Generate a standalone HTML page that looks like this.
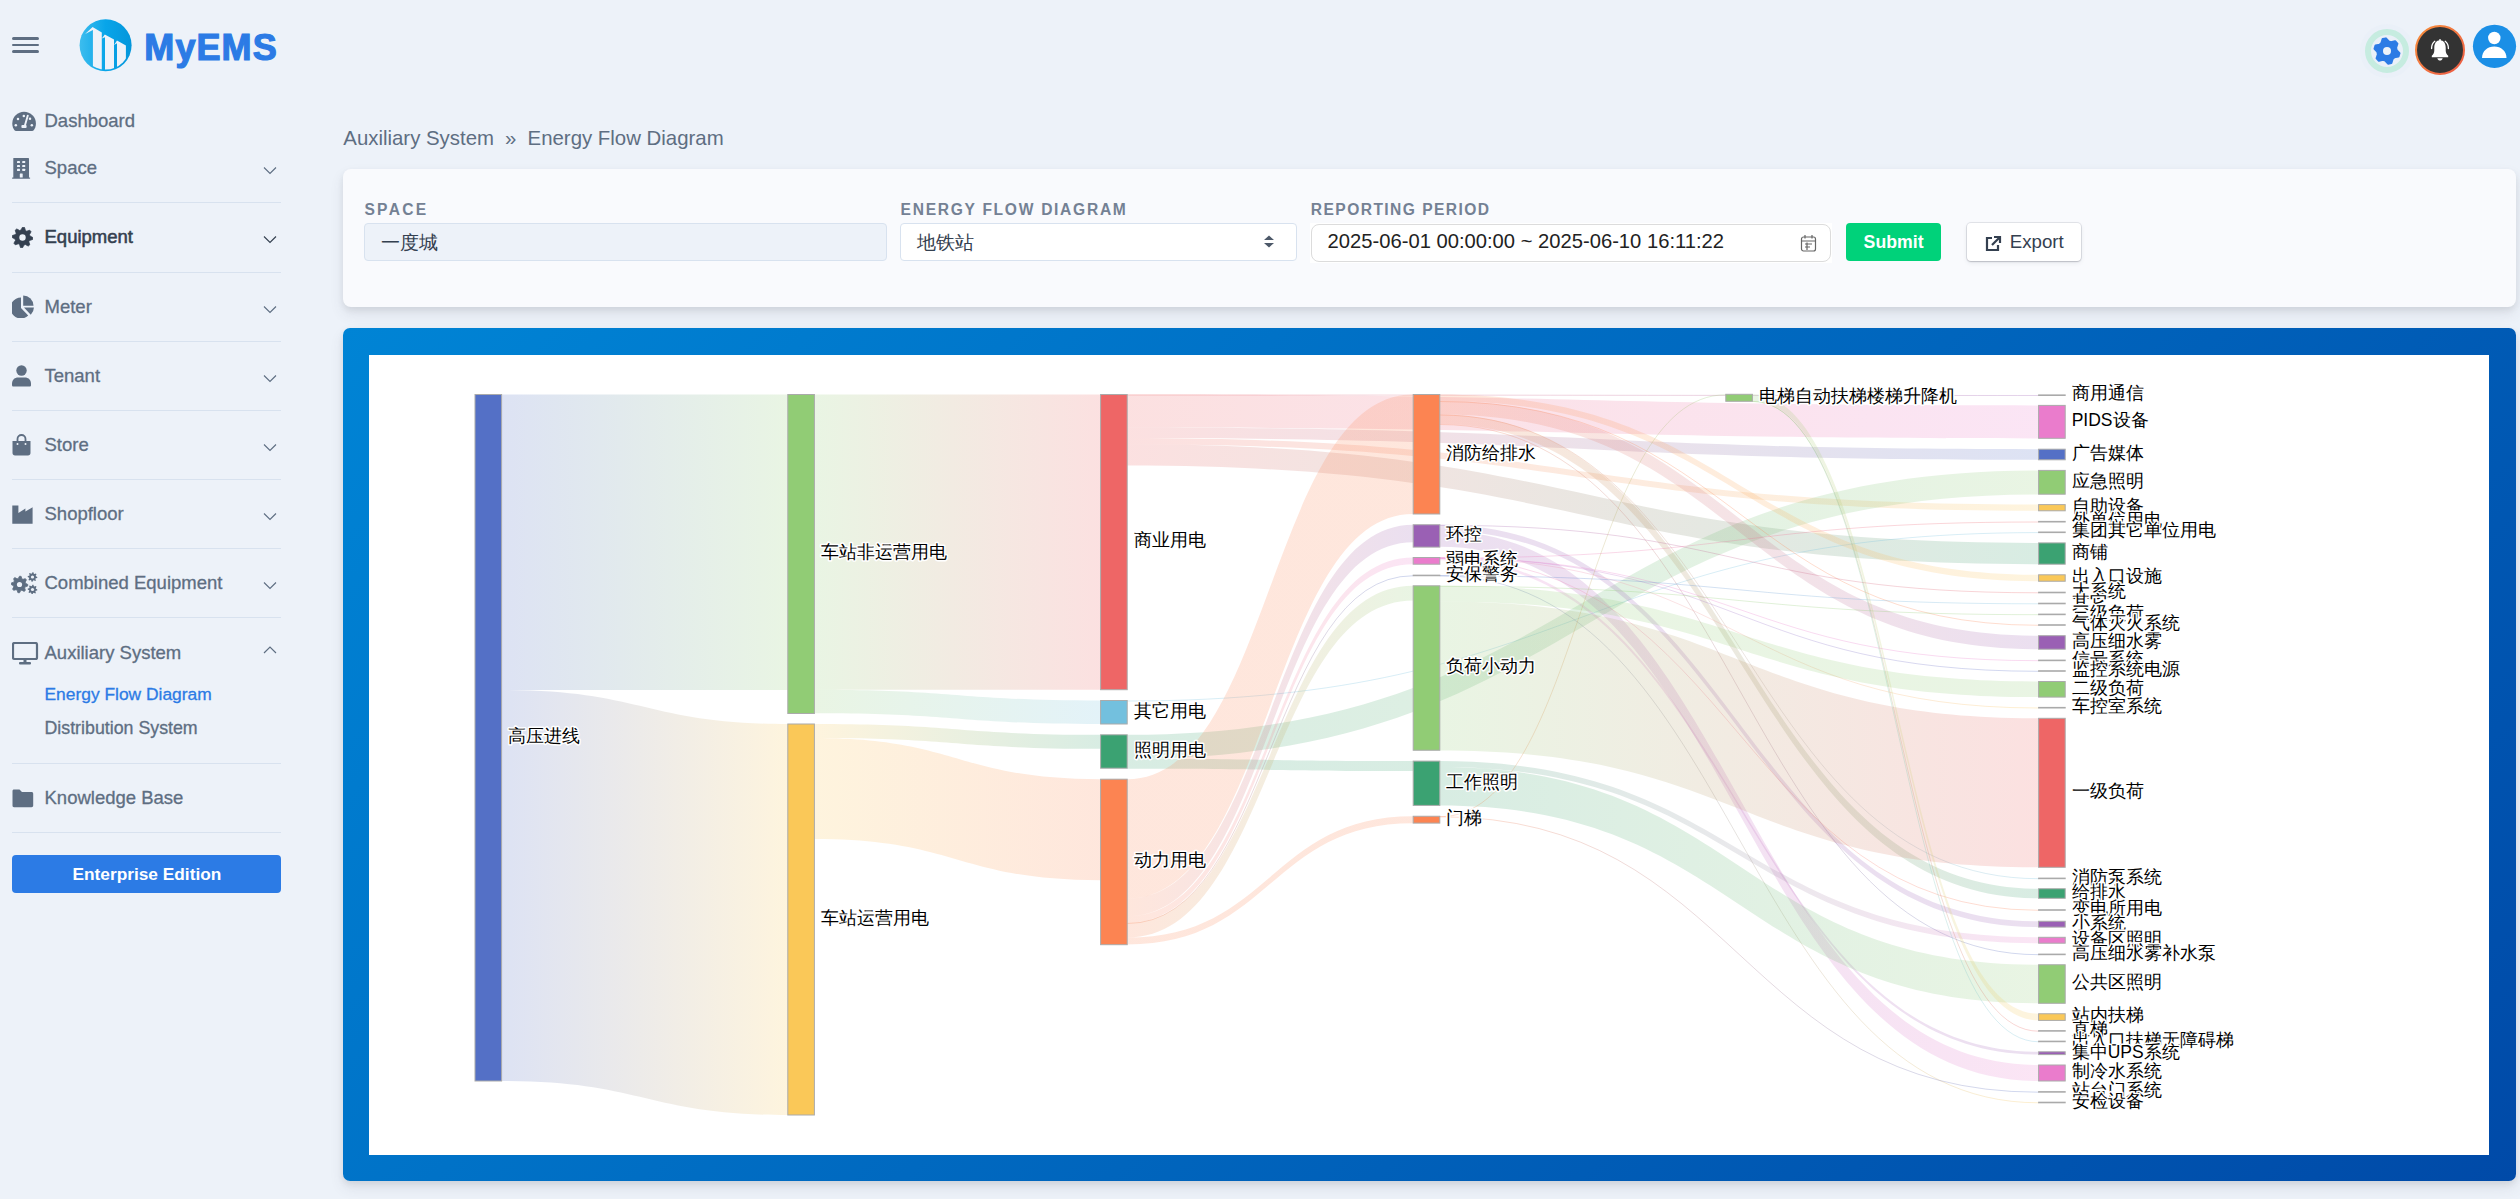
<!DOCTYPE html>
<html><head><meta charset="utf-8"><title>MyEMS</title><style>
*{margin:0;padding:0;box-sizing:border-box}
html,body{width:2520px;height:1199px;overflow:hidden;background:#edf2f9;font-family:"Liberation Sans", sans-serif}
.t{position:absolute;white-space:nowrap}
.a{position:absolute}
</style></head>
<body>
<div class="a" style="left:12px;top:37px;width:27px;height:3px;border-radius:2px;background:#5e6e82"></div>
<div class="a" style="left:12px;top:44px;width:27px;height:2px;border-radius:2px;background:#5e6e82"></div>
<div class="a" style="left:12px;top:50px;width:27px;height:3px;border-radius:2px;background:#5e6e82"></div>
<svg class="a" style="left:78px;top:18px" width="56" height="56" viewBox="0 0 56 56">
<defs><linearGradient id="lg" x1="0" y1="0" x2="1" y2="0"><stop offset="0" stop-color="#3dbdee"/><stop offset="0.5" stop-color="#08a5e9"/><stop offset="1" stop-color="#0496db"/></linearGradient>
<clipPath id="lc"><circle cx="27.6" cy="27.3" r="24.3"/></clipPath></defs>
<circle cx="27.6" cy="27.3" r="26" fill="url(#lg)"/>
<g clip-path="url(#lc)" fill="#eef2f9">
<path d="M7.1 16 L14.6 9.1 L23.8 14.5 L23.8 56 L14.9 56 L14.9 12.1 Z"/>
<path d="M23.8 20.5 L26.8 16.6 L36 21.6 L36 56 L27 56 L27 19.3 Z"/>
<path d="M36 27 L39 22.5 L47.9 27.6 L47.9 56 L39 56 L39 25.2 Z"/>
</g></svg>
<div class="t" style="left:144.3px;top:30.1px;font-size:36.0px;line-height:36.0px;color:#2c7be5;font-weight:bold;letter-spacing:1.1px;-webkit-text-stroke:1.2px #2c7be5">MyEMS</div>
<div class="t" style="left:44.5px;top:112.3px;font-size:18.5px;line-height:18.5px;color:#5e6e82;font-weight:normal;-webkit-text-stroke:0.3px #5e6e82">Dashboard</div>
<div class="t" style="left:44.5px;top:159.3px;font-size:18.5px;line-height:18.5px;color:#5e6e82;font-weight:normal;-webkit-text-stroke:0.3px #5e6e82">Space</div>
<svg class="a" style="left:262px;top:165.5px" width="16" height="10" viewBox="0 0 16 10"><path d="M2 1.5 L8 7.5 L14 1.5" fill="none" stroke="#5e6e82" stroke-width="1.15"/></svg>
<div class="t" style="left:44.5px;top:228.3px;font-size:18.5px;line-height:18.5px;color:#344050;font-weight:normal;-webkit-text-stroke:0.55px #344050">Equipment</div>
<svg class="a" style="left:262px;top:234.5px" width="16" height="10" viewBox="0 0 16 10"><path d="M2 1.5 L8 7.5 L14 1.5" fill="none" stroke="#344050" stroke-width="1.15"/></svg>
<div class="t" style="left:44.5px;top:298.3px;font-size:18.5px;line-height:18.5px;color:#5e6e82;font-weight:normal;-webkit-text-stroke:0.3px #5e6e82">Meter</div>
<svg class="a" style="left:262px;top:304.5px" width="16" height="10" viewBox="0 0 16 10"><path d="M2 1.5 L8 7.5 L14 1.5" fill="none" stroke="#5e6e82" stroke-width="1.15"/></svg>
<div class="t" style="left:44.5px;top:367.3px;font-size:18.5px;line-height:18.5px;color:#5e6e82;font-weight:normal;-webkit-text-stroke:0.3px #5e6e82">Tenant</div>
<svg class="a" style="left:262px;top:373.5px" width="16" height="10" viewBox="0 0 16 10"><path d="M2 1.5 L8 7.5 L14 1.5" fill="none" stroke="#5e6e82" stroke-width="1.15"/></svg>
<div class="t" style="left:44.5px;top:436.3px;font-size:18.5px;line-height:18.5px;color:#5e6e82;font-weight:normal;-webkit-text-stroke:0.3px #5e6e82">Store</div>
<svg class="a" style="left:262px;top:442.5px" width="16" height="10" viewBox="0 0 16 10"><path d="M2 1.5 L8 7.5 L14 1.5" fill="none" stroke="#5e6e82" stroke-width="1.15"/></svg>
<div class="t" style="left:44.5px;top:505.3px;font-size:18.5px;line-height:18.5px;color:#5e6e82;font-weight:normal;-webkit-text-stroke:0.3px #5e6e82">Shopfloor</div>
<svg class="a" style="left:262px;top:511.5px" width="16" height="10" viewBox="0 0 16 10"><path d="M2 1.5 L8 7.5 L14 1.5" fill="none" stroke="#5e6e82" stroke-width="1.15"/></svg>
<div class="t" style="left:44.5px;top:574.3px;font-size:18.5px;line-height:18.5px;color:#5e6e82;font-weight:normal;-webkit-text-stroke:0.3px #5e6e82">Combined Equipment</div>
<svg class="a" style="left:262px;top:580.5px" width="16" height="10" viewBox="0 0 16 10"><path d="M2 1.5 L8 7.5 L14 1.5" fill="none" stroke="#5e6e82" stroke-width="1.15"/></svg>
<div class="t" style="left:44.5px;top:644.3px;font-size:18.5px;line-height:18.5px;color:#5e6e82;font-weight:normal;-webkit-text-stroke:0.3px #5e6e82">Auxiliary System</div>
<svg class="a" style="left:262px;top:645px" width="16" height="10" viewBox="0 0 16 10"><path d="M2 8 L8 2 L14 8" fill="none" stroke="#5e6e82" stroke-width="1.15"/></svg>
<div class="t" style="left:44.5px;top:789.3px;font-size:18.5px;line-height:18.5px;color:#5e6e82;font-weight:normal;-webkit-text-stroke:0.3px #5e6e82">Knowledge Base</div>
<svg class="a" style="left:12px;top:111px" width="25" height="21" viewBox="0 0 25 21">
<path d="M12 0.8 C5.6 0.8 0.3 6 0.3 12.4 C0.3 15 1.1 17.3 2.5 19.2 C2.9 19.7 3.4 19.9 4 19.9 H20.2 C20.8 19.9 21.3 19.7 21.7 19.2 C23.1 17.3 23.9 15 23.9 12.4 C23.9 6 18.6 0.8 12 0.8 Z" fill="#5e6e82"/>
<circle cx="11.8" cy="5" r="1.25" fill="#edf2f9"/><circle cx="6" cy="8" r="1.25" fill="#edf2f9"/><circle cx="3.8" cy="14.3" r="1.25" fill="#edf2f9"/><circle cx="19.8" cy="14.3" r="1.25" fill="#edf2f9"/><circle cx="18" cy="7.8" r="1.25" fill="#edf2f9"/>
<path d="M15.8 4.6 L12.9 14.6" stroke="#edf2f9" stroke-width="1.9" stroke-linecap="round"/><rect x="9.4" y="13.9" width="5.2" height="3.1" rx="1" fill="#edf2f9"/>
</svg>
<svg class="a" style="left:12px;top:158px" width="19" height="22" viewBox="0 0 19 22">
<rect x="1.3" y="0" width="15.7" height="20" rx="0.6" fill="#5e6e82"/><rect x="0" y="19.4" width="18.2" height="1.3" rx="0.6" fill="#5e6e82"/>
<g fill="#edf2f9"><rect x="5" y="3" width="3" height="2.1" rx="0.4"/><rect x="10.2" y="3" width="3" height="2.1" rx="0.4"/><rect x="5" y="7" width="3" height="2.1" rx="0.4"/><rect x="10.2" y="7" width="3" height="2.1" rx="0.4"/><rect x="5" y="10.8" width="3" height="2.1" rx="0.4"/><rect x="10.2" y="10.8" width="3" height="2.1" rx="0.4"/><rect x="7.8" y="15.6" width="2.9" height="4" rx="0.4"/></g>
</svg>
<svg class="a" style="left:12px;top:227px" width="21" height="21" viewBox="0 0 21 21">
<path d="M10.50 0.20 L12.51 0.40 L13.41 3.48 L14.72 4.18 L17.78 3.22 L19.06 4.78 L17.52 7.59 L17.95 9.02 L20.80 10.50 L20.60 12.51 L17.52 13.41 L16.82 14.72 L17.78 17.78 L16.22 19.06 L13.41 17.52 L11.98 17.95 L10.50 20.80 L8.49 20.60 L7.59 17.52 L6.28 16.82 L3.22 17.78 L1.94 16.22 L3.48 13.41 L3.05 11.98 L0.20 10.50 L0.40 8.49 L3.48 7.59 L4.18 6.28 L3.22 3.22 L4.78 1.94 L7.59 3.48 L9.02 3.05 Z" fill="#344050" stroke="#344050" stroke-width="0.8" stroke-linejoin="round"/><circle cx="10.5" cy="10.5" r="3.2" fill="#edf2f9"/></svg>
<svg class="a" style="left:12px;top:294px" width="24" height="24" viewBox="0 0 24 24">
<path d="M9 14 V3.5 A10.5 10.5 0 1 0 16.2 21.6 Z" fill="#5e6e82"/><path d="M11.2 11.8 V1.5 A10.3 10.3 0 0 1 21.5 11.8 Z" fill="#5e6e82"/><path d="M12 13.5 H21.9 A10.3 10.3 0 0 1 18.8 20.8 Z" fill="#5e6e82"/></svg>
<svg class="a" style="left:12px;top:365px" width="20" height="22" viewBox="0 0 20 22">
<circle cx="9.5" cy="5.5" r="5.2" fill="#5e6e82"/><path d="M0 19 C0 14.5 3 12.5 6 12.5 H13 C16 12.5 19 14.5 19 19 V20 C19 21 18.5 21.5 17.5 21.5 H1.5 C0.5 21.5 0 21 0 20 Z" fill="#5e6e82"/></svg>
<svg class="a" style="left:12px;top:434px" width="20" height="22" viewBox="0 0 20 22">
<path d="M5.5 7 V5 A4 4 0 0 1 13.5 5 V7" fill="none" stroke="#5e6e82" stroke-width="1.8"/>
<path d="M0.5 7 H18.5 V19 C18.5 20.5 17.5 21.5 16 21.5 H3 C1.5 21.5 0.5 20.5 0.5 19 Z" fill="#5e6e82"/><circle cx="5.5" cy="10" r="1" fill="#edf2f9"/><circle cx="13.5" cy="10" r="1" fill="#edf2f9"/></svg>
<svg class="a" style="left:12px;top:504px" width="22" height="20" viewBox="0 0 22 20">
<path d="M0.3 1.4 H6.4 V9 L13.4 4.4 V7.6 L20.6 3.2 V19.8 H0.3 Z" fill="#5e6e82"/></svg>
<svg class="a" style="left:11px;top:572px" width="27" height="22" viewBox="0 0 27 22">
<path d="M8.50 4.20 L10.12 4.36 L10.87 6.77 L11.94 7.34 L14.37 6.63 L15.40 7.89 L14.23 10.13 L14.58 11.29 L16.80 12.50 L16.64 14.12 L14.23 14.87 L13.66 15.94 L14.37 18.37 L13.11 19.40 L10.87 18.23 L9.71 18.58 L8.50 20.80 L6.88 20.64 L6.13 18.23 L5.06 17.66 L2.63 18.37 L1.60 17.11 L2.77 14.87 L2.42 13.71 L0.20 12.50 L0.36 10.88 L2.77 10.13 L3.34 9.06 L2.63 6.63 L3.89 5.60 L6.13 6.77 L7.29 6.42 Z" fill="#5e6e82" stroke="#5e6e82" stroke-width="0.8" stroke-linejoin="round"/><circle cx="8.5" cy="12.5" r="2.6" fill="#edf2f9"/>
<path d="M21.50 0.20 L22.44 0.29 L22.84 1.77 L23.44 2.09 L24.89 1.61 L25.49 2.33 L24.73 3.66 L24.93 4.32 L26.30 5.00 L26.21 5.94 L24.73 6.34 L24.41 6.94 L24.89 8.39 L24.17 8.99 L22.84 8.23 L22.18 8.43 L21.50 9.80 L20.56 9.71 L20.16 8.23 L19.56 7.91 L18.11 8.39 L17.51 7.67 L18.27 6.34 L18.07 5.68 L16.70 5.00 L16.79 4.06 L18.27 3.66 L18.59 3.06 L18.11 1.61 L18.83 1.01 L20.16 1.77 L20.82 1.57 Z" fill="#5e6e82"/><circle cx="21.5" cy="5" r="1.6" fill="#edf2f9"/>
<path d="M21.50 12.70 L22.44 12.79 L22.84 14.27 L23.44 14.59 L24.89 14.11 L25.49 14.83 L24.73 16.16 L24.93 16.82 L26.30 17.50 L26.21 18.44 L24.73 18.84 L24.41 19.44 L24.89 20.89 L24.17 21.49 L22.84 20.73 L22.18 20.93 L21.50 22.30 L20.56 22.21 L20.16 20.73 L19.56 20.41 L18.11 20.89 L17.51 20.17 L18.27 18.84 L18.07 18.18 L16.70 17.50 L16.79 16.56 L18.27 16.16 L18.59 15.56 L18.11 14.11 L18.83 13.51 L20.16 14.27 L20.82 14.07 Z" fill="#5e6e82"/><circle cx="21.5" cy="17.5" r="1.6" fill="#edf2f9"/></svg>
<svg class="a" style="left:12px;top:642px" width="27" height="24" viewBox="0 0 27 24">
<rect x="1" y="1" width="24" height="16" rx="1.5" fill="none" stroke="#5e6e82" stroke-width="2.2"/><rect x="7" y="20" width="12" height="2.4" rx="1" fill="#5e6e82"/><rect x="11.5" y="17" width="3" height="3.5" fill="#5e6e82"/></svg>
<div class="t" style="left:44.5px;top:685.8px;font-size:17.4px;line-height:17.4px;color:#2c7be5;font-weight:normal;-webkit-text-stroke:0.3px #2c7be5">Energy Flow Diagram</div>
<div class="t" style="left:44.5px;top:720.1px;font-size:17.8px;line-height:17.8px;color:#5e6e82;font-weight:normal;-webkit-text-stroke:0.3px #5e6e82">Distribution System</div>
<svg class="a" style="left:12px;top:789px" width="22" height="19" viewBox="0 0 22 19">
<path d="M0.5 2 C0.5 1 1.2 0.5 2 0.5 H7.5 L10 3 H19.5 C20.5 3 21.2 3.7 21.2 4.7 V16.5 C21.2 17.5 20.5 18.2 19.5 18.2 H2 C1 18.2 0.5 17.5 0.5 16.5 Z" fill="#5e6e82"/></svg>
<div class="a" style="left:12px;top:202px;width:269px;height:1px;background:#d8e2ef"></div>
<div class="a" style="left:12px;top:272px;width:269px;height:1px;background:#d8e2ef"></div>
<div class="a" style="left:12px;top:341px;width:269px;height:1px;background:#d8e2ef"></div>
<div class="a" style="left:12px;top:410px;width:269px;height:1px;background:#d8e2ef"></div>
<div class="a" style="left:12px;top:479px;width:269px;height:1px;background:#d8e2ef"></div>
<div class="a" style="left:12px;top:548px;width:269px;height:1px;background:#d8e2ef"></div>
<div class="a" style="left:12px;top:617px;width:269px;height:1px;background:#d8e2ef"></div>
<div class="a" style="left:12px;top:763px;width:269px;height:1px;background:#d8e2ef"></div>
<div class="a" style="left:12px;top:832px;width:269px;height:1px;background:#d8e2ef"></div>
<div class="a" style="left:12px;top:855px;width:269px;height:38px;border-radius:4px;background:#2c7be5"></div>
<div class="t" style="left:72.5px;top:865.9px;font-size:17.3px;line-height:17.3px;color:#fff;font-weight:bold;">Enterprise Edition</div>
<svg class="a" style="left:2355px;top:18px" width="165" height="66" viewBox="2355 18 165 66">
<circle cx="2387" cy="51" r="27" fill="#eaf0f8"/>
<circle cx="2387" cy="51" r="19" fill="none" stroke="#c6ece0" stroke-width="6"/>
<path d="M2387.00 38.40 L2390.26 38.83 L2391.80 42.69 L2393.79 44.21 L2397.91 44.70 L2399.17 47.74 L2396.60 51.00 L2396.27 53.48 L2397.91 57.30 L2395.91 59.91 L2391.80 59.31 L2389.48 60.27 L2387.00 63.60 L2383.74 63.17 L2382.20 59.31 L2380.21 57.79 L2376.09 57.30 L2374.83 54.26 L2377.40 51.00 L2377.73 48.52 L2376.09 44.70 L2378.09 42.09 L2382.20 42.69 L2384.52 41.73 Z" fill="#2c7be5" stroke="#2c7be5" stroke-width="2.2" stroke-linejoin="round" transform="rotate(-20 2387 51)"/>
<circle cx="2387" cy="51" r="4" fill="#edf2f9"/>
<defs><linearGradient id="bo" x1="0" y1="0" x2="1" y2="1"><stop offset="0" stop-color="#f7903c"/><stop offset="1" stop-color="#ec5a45"/></linearGradient></defs>
<circle cx="2440" cy="50" r="24" fill="#333" stroke="url(#bo)" stroke-width="2"/>
<path d="M2440 40.3 C2436.3 40.3 2434.3 43.5 2434.3 47.5 V50.5 C2434.3 52.8 2433.3 54.4 2431.8 55.8 V57.3 H2448.2 V55.8 C2446.7 54.4 2445.7 52.8 2445.7 50.5 V47.5 C2445.7 43.5 2443.7 40.3 2440 40.3 Z" fill="#fff"/>
<rect x="2439.2" y="39" width="1.6" height="2.5" rx="0.8" fill="#fff"/>
<path d="M2437.3 58.2 H2442.7 C2442.2 59.7 2441.3 60.5 2440 60.5 C2438.7 60.5 2437.8 59.7 2437.3 58.2 Z" fill="#fff"/>
<path d="M2431.6 48.5 C2431.6 45.2 2432.8 42.8 2434.8 41.3" fill="none" stroke="#fff" stroke-width="1.3" stroke-linecap="round"/>
<path d="M2448.4 48.5 C2448.4 45.2 2447.2 42.8 2445.2 41.3" fill="none" stroke="#fff" stroke-width="1.3" stroke-linecap="round"/>
<circle cx="2494.5" cy="46.3" r="21.6" fill="#1b8fe6"/>
<circle cx="2494.3" cy="38" r="6.2" fill="#fff"/>
<path d="M2482 58 C2482 51 2487.5 46.5 2494.3 46.5 C2501 46.5 2506.5 51 2506.5 58 Z" fill="#fff"/>
</svg>
<div class="t" style="left:343.3px;top:128.1px;font-size:20.4px;line-height:20.4px;color:#5e6e82;font-weight:normal;">Auxiliary System</div>
<div class="t" style="left:505.0px;top:128.1px;font-size:20.4px;line-height:20.4px;color:#5e6e82;font-weight:normal;">&raquo;</div>
<div class="t" style="left:527.6px;top:128.1px;font-size:20.4px;line-height:20.4px;color:#5e6e82;font-weight:normal;">Energy Flow Diagram</div>
<div class="a" style="left:343px;top:169px;width:2173px;height:138px;border-radius:8px;background:#f9fafd;box-shadow:0 7px 14px 0 rgba(65,69,88,0.1),0 3px 6px 0 rgba(0,0,0,0.07)"></div>
<div class="t" style="left:364.4px;top:201.6px;font-size:15.6px;line-height:15.6px;color:#748194;font-weight:bold;letter-spacing:2.3px">SPACE</div>
<div class="t" style="left:900.6px;top:202.1px;font-size:15.6px;line-height:15.6px;color:#748194;font-weight:bold;letter-spacing:1.7px">ENERGY FLOW DIAGRAM</div>
<div class="t" style="left:1310.8px;top:202.1px;font-size:15.6px;line-height:15.6px;color:#748194;font-weight:bold;letter-spacing:1.43px">REPORTING PERIOD</div>
<div class="a" style="left:364px;top:223px;width:523px;height:38px;border-radius:4px;background:#edf2f9;border:1px solid #d8e2ef"></div>
<div class="t" style="left:381.4px;top:233.8px;font-size:18.5px;line-height:18.5px;color:#344050;font-weight:normal;">一度城</div>
<div class="a" style="left:900px;top:223px;width:397px;height:38px;border-radius:4px;background:#fff;border:1px solid #d8e2ef"></div>
<div class="t" style="left:917.0px;top:233.8px;font-size:18.5px;line-height:18.5px;color:#344050;font-weight:normal;">地铁站</div>
<svg class="a" style="left:1262px;top:234px" width="14" height="15" viewBox="0 0 14 15"><path d="M2 6 L7 1.5 L12 6 Z M2 9 L7 13.5 L12 9 Z" fill="#4d5969"/></svg>
<div class="a" style="left:1310px;top:223px;width:522px;height:40px;background:#fff"></div>
<div class="a" style="left:1311px;top:224px;width:520px;height:38px;border-radius:8px;background:#fff;border:1px solid #dcdcdc"></div>
<div class="t" style="left:1327.6px;top:231.4px;font-size:20.2px;line-height:20.2px;color:#222;font-weight:normal;">2025-06-01 00:00:00 ~ 2025-06-10 16:11:22</div>
<svg class="a" style="left:1800px;top:234px" width="19" height="19" viewBox="0 0 19 19"><g fill="none" stroke="#666" stroke-width="1.2">
<rect x="1.5" y="3" width="14" height="14" rx="2"/><path d="M1.5 7 H15.5 M5 1 V4.5 M12 1 V4.5 M5 10 H12 M5 13 H10 M7 8.5 V16"/></g></svg>
<div class="a" style="left:1846px;top:223px;width:95px;height:38px;border-radius:4px;background:#00d27a"></div>
<div class="t" style="left:1863.6px;top:233.6px;font-size:17.7px;line-height:17.7px;color:#fff;font-weight:bold;">Submit</div>
<div class="a" style="left:1967px;top:223px;width:114px;height:38px;border-radius:4px;background:#fff;box-shadow:0 0 0 1px rgba(43,45,80,0.1),0 2px 5px 0 rgba(43,45,80,0.08),0 1px 1.5px 0 rgba(0,0,0,0.07),0 1px 2px 0 rgba(0,0,0,0.08)"></div>
<svg class="a" style="left:1985px;top:235px" width="17" height="17" viewBox="0 0 17 17"><g fill="none" stroke="#344050" stroke-width="2.2">
<path d="M7 3 H2 V15 H13 V10"/><path d="M9 2 H15 V8 M15 2 L7 10"/></g></svg>
<div class="t" style="left:2009.7px;top:232.8px;font-size:18.7px;line-height:18.7px;color:#344050;font-weight:normal;">Export</div>
<div class="a" style="left:343px;top:328px;width:2173px;height:853px;border-radius:7px;background:linear-gradient(135deg,#0084d5,#004aa8);box-shadow:0 7px 14px 0 rgba(65,69,88,0.1),0 3px 6px 0 rgba(0,0,0,0.07)"></div>
<div class="a" style="left:369px;top:355px;width:2120px;height:800px;background:#fff"></div>
<svg class="a" style="left:0;top:0" width="2520" height="1199" viewBox="0 0 2520 1199">
<defs>
<linearGradient id="g0" gradientUnits="userSpaceOnUse" x1="501.6" y1="0" x2="787.8" y2="0"><stop offset="0" stop-color="#5470c6"/><stop offset="1" stop-color="#91cc75"/></linearGradient>
<linearGradient id="g1" gradientUnits="userSpaceOnUse" x1="501.6" y1="0" x2="787.8" y2="0"><stop offset="0" stop-color="#5470c6"/><stop offset="1" stop-color="#fac858"/></linearGradient>
<linearGradient id="g2" gradientUnits="userSpaceOnUse" x1="814.4" y1="0" x2="1100.6" y2="0"><stop offset="0" stop-color="#91cc75"/><stop offset="1" stop-color="#ee6666"/></linearGradient>
<linearGradient id="g3" gradientUnits="userSpaceOnUse" x1="814.4" y1="0" x2="1100.6" y2="0"><stop offset="0" stop-color="#91cc75"/><stop offset="1" stop-color="#73c0de"/></linearGradient>
<linearGradient id="g4" gradientUnits="userSpaceOnUse" x1="814.4" y1="0" x2="1100.6" y2="0"><stop offset="0" stop-color="#fac858"/><stop offset="1" stop-color="#3ba272"/></linearGradient>
<linearGradient id="g5" gradientUnits="userSpaceOnUse" x1="814.4" y1="0" x2="1100.6" y2="0"><stop offset="0" stop-color="#fac858"/><stop offset="1" stop-color="#fc8452"/></linearGradient>
<linearGradient id="g6" gradientUnits="userSpaceOnUse" x1="1127.2" y1="0" x2="2038.6" y2="0"><stop offset="0" stop-color="#ee6666"/><stop offset="1" stop-color="#9a60b4"/></linearGradient>
<linearGradient id="g7" gradientUnits="userSpaceOnUse" x1="1127.2" y1="0" x2="2038.6" y2="0"><stop offset="0" stop-color="#ee6666"/><stop offset="1" stop-color="#ea7ccc"/></linearGradient>
<linearGradient id="g8" gradientUnits="userSpaceOnUse" x1="1127.2" y1="0" x2="2038.6" y2="0"><stop offset="0" stop-color="#ee6666"/><stop offset="1" stop-color="#5470c6"/></linearGradient>
<linearGradient id="g9" gradientUnits="userSpaceOnUse" x1="1127.2" y1="0" x2="2038.6" y2="0"><stop offset="0" stop-color="#ee6666"/><stop offset="1" stop-color="#fac858"/></linearGradient>
<linearGradient id="g10" gradientUnits="userSpaceOnUse" x1="1127.2" y1="0" x2="2038.6" y2="0"><stop offset="0" stop-color="#ee6666"/><stop offset="1" stop-color="#3ba272"/></linearGradient>
<linearGradient id="g11" gradientUnits="userSpaceOnUse" x1="1127.2" y1="0" x2="2038.6" y2="0"><stop offset="0" stop-color="#73c0de"/><stop offset="1" stop-color="#73c0de"/></linearGradient>
<linearGradient id="g12" gradientUnits="userSpaceOnUse" x1="1127.2" y1="0" x2="2038.6" y2="0"><stop offset="0" stop-color="#3ba272"/><stop offset="1" stop-color="#91cc75"/></linearGradient>
<linearGradient id="g13" gradientUnits="userSpaceOnUse" x1="1127.2" y1="0" x2="1413.2" y2="0"><stop offset="0" stop-color="#3ba272"/><stop offset="1" stop-color="#3ba272"/></linearGradient>
<linearGradient id="g14" gradientUnits="userSpaceOnUse" x1="1127.2" y1="0" x2="1413.2" y2="0"><stop offset="0" stop-color="#fc8452"/><stop offset="1" stop-color="#fc8452"/></linearGradient>
<linearGradient id="g15" gradientUnits="userSpaceOnUse" x1="1127.2" y1="0" x2="1413.2" y2="0"><stop offset="0" stop-color="#fc8452"/><stop offset="1" stop-color="#9a60b4"/></linearGradient>
<linearGradient id="g16" gradientUnits="userSpaceOnUse" x1="1127.2" y1="0" x2="1413.2" y2="0"><stop offset="0" stop-color="#fc8452"/><stop offset="1" stop-color="#ea7ccc"/></linearGradient>
<linearGradient id="g17" gradientUnits="userSpaceOnUse" x1="1127.2" y1="0" x2="1413.2" y2="0"><stop offset="0" stop-color="#fc8452"/><stop offset="1" stop-color="#5470c6"/></linearGradient>
<linearGradient id="g18" gradientUnits="userSpaceOnUse" x1="1127.2" y1="0" x2="1413.2" y2="0"><stop offset="0" stop-color="#fc8452"/><stop offset="1" stop-color="#91cc75"/></linearGradient>
<linearGradient id="g19" gradientUnits="userSpaceOnUse" x1="1127.2" y1="0" x2="1413.2" y2="0"><stop offset="0" stop-color="#fc8452"/><stop offset="1" stop-color="#fc8452"/></linearGradient>
<linearGradient id="g20" gradientUnits="userSpaceOnUse" x1="1439.8" y1="0" x2="2038.6" y2="0"><stop offset="0" stop-color="#fc8452"/><stop offset="1" stop-color="#fac858"/></linearGradient>
<linearGradient id="g21" gradientUnits="userSpaceOnUse" x1="1439.8" y1="0" x2="2038.6" y2="0"><stop offset="0" stop-color="#fc8452"/><stop offset="1" stop-color="#fc8452"/></linearGradient>
<linearGradient id="g22" gradientUnits="userSpaceOnUse" x1="1439.8" y1="0" x2="2038.6" y2="0"><stop offset="0" stop-color="#fc8452"/><stop offset="1" stop-color="#9a60b4"/></linearGradient>
<linearGradient id="g23" gradientUnits="userSpaceOnUse" x1="1439.8" y1="0" x2="2038.6" y2="0"><stop offset="0" stop-color="#fc8452"/><stop offset="1" stop-color="#73c0de"/></linearGradient>
<linearGradient id="g24" gradientUnits="userSpaceOnUse" x1="1439.8" y1="0" x2="2038.6" y2="0"><stop offset="0" stop-color="#fc8452"/><stop offset="1" stop-color="#3ba272"/></linearGradient>
<linearGradient id="g25" gradientUnits="userSpaceOnUse" x1="1439.8" y1="0" x2="2038.6" y2="0"><stop offset="0" stop-color="#fc8452"/><stop offset="1" stop-color="#5470c6"/></linearGradient>
<linearGradient id="g26" gradientUnits="userSpaceOnUse" x1="1439.8" y1="0" x2="2038.6" y2="0"><stop offset="0" stop-color="#9a60b4"/><stop offset="1" stop-color="#ee6666"/></linearGradient>
<linearGradient id="g27" gradientUnits="userSpaceOnUse" x1="1439.8" y1="0" x2="2038.6" y2="0"><stop offset="0" stop-color="#9a60b4"/><stop offset="1" stop-color="#9a60b4"/></linearGradient>
<linearGradient id="g28" gradientUnits="userSpaceOnUse" x1="1439.8" y1="0" x2="2038.6" y2="0"><stop offset="0" stop-color="#9a60b4"/><stop offset="1" stop-color="#ea7ccc"/></linearGradient>
<linearGradient id="g29" gradientUnits="userSpaceOnUse" x1="1439.8" y1="0" x2="2038.6" y2="0"><stop offset="0" stop-color="#ea7ccc"/><stop offset="1" stop-color="#ee6666"/></linearGradient>
<linearGradient id="g30" gradientUnits="userSpaceOnUse" x1="1439.8" y1="0" x2="2038.6" y2="0"><stop offset="0" stop-color="#ea7ccc"/><stop offset="1" stop-color="#ea7ccc"/></linearGradient>
<linearGradient id="g31" gradientUnits="userSpaceOnUse" x1="1439.8" y1="0" x2="2038.6" y2="0"><stop offset="0" stop-color="#ea7ccc"/><stop offset="1" stop-color="#5470c6"/></linearGradient>
<linearGradient id="g32" gradientUnits="userSpaceOnUse" x1="1439.8" y1="0" x2="2038.6" y2="0"><stop offset="0" stop-color="#ea7ccc"/><stop offset="1" stop-color="#fac858"/></linearGradient>
<linearGradient id="g33" gradientUnits="userSpaceOnUse" x1="1439.8" y1="0" x2="2038.6" y2="0"><stop offset="0" stop-color="#ea7ccc"/><stop offset="1" stop-color="#fc8452"/></linearGradient>
<linearGradient id="g34" gradientUnits="userSpaceOnUse" x1="1439.8" y1="0" x2="2038.6" y2="0"><stop offset="0" stop-color="#ea7ccc"/><stop offset="1" stop-color="#9a60b4"/></linearGradient>
<linearGradient id="g35" gradientUnits="userSpaceOnUse" x1="1439.8" y1="0" x2="2038.6" y2="0"><stop offset="0" stop-color="#5470c6"/><stop offset="1" stop-color="#73c0de"/></linearGradient>
<linearGradient id="g36" gradientUnits="userSpaceOnUse" x1="1439.8" y1="0" x2="2038.6" y2="0"><stop offset="0" stop-color="#5470c6"/><stop offset="1" stop-color="#fac858"/></linearGradient>
<linearGradient id="g37" gradientUnits="userSpaceOnUse" x1="1439.8" y1="0" x2="2038.6" y2="0"><stop offset="0" stop-color="#91cc75"/><stop offset="1" stop-color="#91cc75"/></linearGradient>
<linearGradient id="g38" gradientUnits="userSpaceOnUse" x1="1439.8" y1="0" x2="2038.6" y2="0"><stop offset="0" stop-color="#91cc75"/><stop offset="1" stop-color="#91cc75"/></linearGradient>
<linearGradient id="g39" gradientUnits="userSpaceOnUse" x1="1439.8" y1="0" x2="2038.6" y2="0"><stop offset="0" stop-color="#91cc75"/><stop offset="1" stop-color="#ee6666"/></linearGradient>
<linearGradient id="g40" gradientUnits="userSpaceOnUse" x1="1439.8" y1="0" x2="2038.6" y2="0"><stop offset="0" stop-color="#3ba272"/><stop offset="1" stop-color="#ea7ccc"/></linearGradient>
<linearGradient id="g41" gradientUnits="userSpaceOnUse" x1="1439.8" y1="0" x2="2038.6" y2="0"><stop offset="0" stop-color="#3ba272"/><stop offset="1" stop-color="#91cc75"/></linearGradient>
<linearGradient id="g42" gradientUnits="userSpaceOnUse" x1="1439.8" y1="0" x2="1725.8" y2="0"><stop offset="0" stop-color="#fc8452"/><stop offset="1" stop-color="#91cc75"/></linearGradient>
<linearGradient id="g43" gradientUnits="userSpaceOnUse" x1="1439.8" y1="0" x2="2038.6" y2="0"><stop offset="0" stop-color="#fc8452"/><stop offset="1" stop-color="#5470c6"/></linearGradient>
<linearGradient id="g44" gradientUnits="userSpaceOnUse" x1="1752.4" y1="0" x2="2038.6" y2="0"><stop offset="0" stop-color="#91cc75"/><stop offset="1" stop-color="#fac858"/></linearGradient>
<linearGradient id="g45" gradientUnits="userSpaceOnUse" x1="1752.4" y1="0" x2="2038.6" y2="0"><stop offset="0" stop-color="#91cc75"/><stop offset="1" stop-color="#ee6666"/></linearGradient>
<linearGradient id="g46" gradientUnits="userSpaceOnUse" x1="1752.4" y1="0" x2="2038.6" y2="0"><stop offset="0" stop-color="#91cc75"/><stop offset="1" stop-color="#73c0de"/></linearGradient>
</defs>
<g opacity="1">
<path d="M501.6 394.50 C644.7 394.50 644.7 394.50 787.8 394.50 L787.8 690.00 C644.7 690.00 644.7 690.00 501.6 690.00 Z" fill="url(#g0)" fill-opacity="0.2"/>
<path d="M501.6 690.00 C644.7 690.00 644.7 724.00 787.8 724.00 L787.8 1115.00 C644.7 1115.00 644.7 1081.00 501.6 1081.00 Z" fill="url(#g1)" fill-opacity="0.2"/>
<path d="M814.4 394.50 C957.5 394.50 957.5 394.50 1100.6 394.50 L1100.6 689.70 C957.5 689.70 957.5 689.70 814.4 689.70 Z" fill="url(#g2)" fill-opacity="0.2"/>
<path d="M814.4 689.70 C957.5 689.70 957.5 700.50 1100.6 700.50 L1100.6 724.00 C957.5 724.00 957.5 713.20 814.4 713.20 Z" fill="url(#g3)" fill-opacity="0.2"/>
<path d="M814.4 724.00 C957.5 724.00 957.5 734.80 1100.6 734.80 L1100.6 748.80 C957.5 748.80 957.5 738.00 814.4 738.00 Z" fill="url(#g4)" fill-opacity="0.2"/>
<path d="M814.4 738.00 C957.5 738.00 957.5 779.20 1100.6 779.20 L1100.6 880.20 C957.5 880.20 957.5 839.00 814.4 839.00 Z" fill="url(#g5)" fill-opacity="0.2"/>
<path d="M1127.2 395.00 C1582.9 395.00 1582.9 395.50 2038.6 395.50" fill="none" stroke="url(#g6)" stroke-opacity="0.28" stroke-width="1"/>
<path d="M1127.2 394.50 C1582.9 394.50 1582.9 405.40 2038.6 405.40 L2038.6 438.40 C1582.9 438.40 1582.9 427.50 1127.2 427.50 Z" fill="url(#g7)" fill-opacity="0.2"/>
<path d="M1127.2 427.50 C1582.9 427.50 1582.9 449.20 2038.6 449.20 L2038.6 459.80 C1582.9 459.80 1582.9 438.10 1127.2 438.10 Z" fill="url(#g8)" fill-opacity="0.2"/>
<path d="M1127.2 438.10 C1582.9 438.10 1582.9 504.60 2038.6 504.60 L2038.6 510.80 C1582.9 510.80 1582.9 444.30 1127.2 444.30 Z" fill="url(#g9)" fill-opacity="0.2"/>
<path d="M1127.2 444.30 C1582.9 444.30 1582.9 542.90 2038.6 542.90 L2038.6 564.20 C1582.9 564.20 1582.9 465.60 1127.2 465.60 Z" fill="url(#g10)" fill-opacity="0.2"/>
<path d="M1127.2 701.00 C1582.9 701.00 1582.9 532.60 2038.6 532.60" fill="none" stroke="url(#g11)" stroke-opacity="0.28" stroke-width="1"/>
<path d="M1127.2 734.80 C1582.9 734.80 1582.9 470.40 2038.6 470.40 L2038.6 494.40 C1582.9 494.40 1582.9 758.80 1127.2 758.80 Z" fill="url(#g12)" fill-opacity="0.2"/>
<path d="M1127.2 758.80 C1270.2 758.80 1270.2 761.10 1413.2 761.10 L1413.2 771.10 C1270.2 771.10 1270.2 768.80 1127.2 768.80 Z" fill="url(#g13)" fill-opacity="0.2"/>
<path d="M1127.2 779.20 C1270.2 779.20 1270.2 394.50 1413.2 394.50 L1413.2 514.00 C1270.2 514.00 1270.2 898.70 1127.2 898.70 Z" fill="url(#g14)" fill-opacity="0.2"/>
<path d="M1127.2 898.70 C1270.2 898.70 1270.2 524.75 1413.2 524.75 L1413.2 542.35 C1270.2 542.35 1270.2 916.30 1127.2 916.30 Z" fill="url(#g15)" fill-opacity="0.2"/>
<path d="M1127.2 916.30 C1270.2 916.30 1270.2 557.50 1413.2 557.50 L1413.2 564.20 C1270.2 564.20 1270.2 923.00 1127.2 923.00 Z" fill="url(#g16)" fill-opacity="0.2"/>
<path d="M1127.2 923.50 C1270.2 923.50 1270.2 575.75 1413.2 575.75" fill="none" stroke="url(#g17)" stroke-opacity="0.28" stroke-width="1"/>
<path d="M1127.2 923.00 C1270.2 923.00 1270.2 585.80 1413.2 585.80 L1413.2 600.40 C1270.2 600.40 1270.2 937.60 1127.2 937.60 Z" fill="url(#g18)" fill-opacity="0.2"/>
<path d="M1127.2 937.60 C1270.2 937.60 1270.2 816.25 1413.2 816.25 L1413.2 823.15 C1270.2 823.15 1270.2 944.50 1127.2 944.50 Z" fill="url(#g19)" fill-opacity="0.2"/>
<path d="M1439.8 394.50 C1739.2 394.50 1739.2 574.80 2038.6 574.80 L2038.6 581.30 C1739.2 581.30 1739.2 401.00 1439.8 401.00 Z" fill="url(#g20)" fill-opacity="0.2"/>
<path d="M1439.8 401.50 C1739.2 401.50 1739.2 625.30 2038.6 625.30" fill="none" stroke="url(#g21)" stroke-opacity="0.28" stroke-width="1"/>
<path d="M1439.8 401.00 C1739.2 401.00 1739.2 635.70 2038.6 635.70 L2038.6 649.20 C1739.2 649.20 1739.2 414.50 1439.8 414.50 Z" fill="url(#g22)" fill-opacity="0.2"/>
<path d="M1439.8 415.00 C1739.2 415.00 1739.2 878.70 2038.6 878.70" fill="none" stroke="url(#g23)" stroke-opacity="0.28" stroke-width="1"/>
<path d="M1439.8 414.50 C1739.2 414.50 1739.2 888.75 2038.6 888.75 L2038.6 898.25 C1739.2 898.25 1739.2 424.00 1439.8 424.00 Z" fill="url(#g24)" fill-opacity="0.2"/>
<path d="M1439.8 424.50 C1739.2 424.50 1739.2 954.70 2038.6 954.70" fill="none" stroke="url(#g25)" stroke-opacity="0.28" stroke-width="1"/>
<path d="M1439.8 525.25 C1739.2 525.25 1739.2 592.80 2038.6 592.80" fill="none" stroke="url(#g26)" stroke-opacity="0.28" stroke-width="1"/>
<path d="M1439.8 524.75 C1739.2 524.75 1739.2 921.25 2038.6 921.25 L2038.6 927.15 C1739.2 927.15 1739.2 530.65 1439.8 530.65 Z" fill="url(#g27)" fill-opacity="0.2"/>
<path d="M1439.8 530.65 C1739.2 530.65 1739.2 1065.00 2038.6 1065.00 L2038.6 1081.00 C1739.2 1081.00 1739.2 546.65 1439.8 546.65 Z" fill="url(#g28)" fill-opacity="0.2"/>
<path d="M1439.8 558.00 C1739.2 558.00 1739.2 522.00 2038.6 522.00" fill="none" stroke="url(#g29)" stroke-opacity="0.28" stroke-width="1"/>
<path d="M1439.8 558.00 C1739.2 558.00 1739.2 660.70 2038.6 660.70" fill="none" stroke="url(#g30)" stroke-opacity="0.28" stroke-width="1"/>
<path d="M1439.8 558.00 C1739.2 558.00 1739.2 671.30 2038.6 671.30" fill="none" stroke="url(#g31)" stroke-opacity="0.28" stroke-width="1"/>
<path d="M1439.8 558.00 C1739.2 558.00 1739.2 708.00 2038.6 708.00" fill="none" stroke="url(#g32)" stroke-opacity="0.28" stroke-width="1"/>
<path d="M1439.8 558.00 C1739.2 558.00 1739.2 910.30 2038.6 910.30" fill="none" stroke="url(#g33)" stroke-opacity="0.28" stroke-width="1"/>
<path d="M1439.8 557.50 C1739.2 557.50 1739.2 1051.80 2038.6 1051.80 L2038.6 1054.60 C1739.2 1054.60 1739.2 560.30 1439.8 560.30 Z" fill="url(#g34)" fill-opacity="0.2"/>
<path d="M1439.8 575.75 C1739.2 575.75 1739.2 603.80 2038.6 603.80" fill="none" stroke="url(#g35)" stroke-opacity="0.28" stroke-width="1"/>
<path d="M1439.8 575.75 C1739.2 575.75 1739.2 1102.80 2038.6 1102.80" fill="none" stroke="url(#g36)" stroke-opacity="0.28" stroke-width="1"/>
<path d="M1439.8 586.30 C1739.2 586.30 1739.2 614.70 2038.6 614.70" fill="none" stroke="url(#g37)" stroke-opacity="0.28" stroke-width="1"/>
<path d="M1439.8 585.80 C1739.2 585.80 1739.2 681.50 2038.6 681.50 L2038.6 697.10 C1739.2 697.10 1739.2 601.40 1439.8 601.40 Z" fill="url(#g38)" fill-opacity="0.2"/>
<path d="M1439.8 601.40 C1739.2 601.40 1739.2 718.30 2038.6 718.30 L2038.6 867.30 C1739.2 867.30 1739.2 750.40 1439.8 750.40 Z" fill="url(#g39)" fill-opacity="0.2"/>
<path d="M1439.8 761.10 C1739.2 761.10 1739.2 937.30 2038.6 937.30 L2038.6 943.20 C1739.2 943.20 1739.2 767.00 1439.8 767.00 Z" fill="url(#g40)" fill-opacity="0.2"/>
<path d="M1439.8 767.00 C1739.2 767.00 1739.2 964.75 2038.6 964.75 L2038.6 1003.25 C1739.2 1003.25 1739.2 805.50 1439.8 805.50 Z" fill="url(#g41)" fill-opacity="0.2"/>
<path d="M1439.8 816.75 C1582.8 816.75 1582.8 394.80 1725.8 394.80" fill="none" stroke="url(#g42)" stroke-opacity="0.28" stroke-width="1"/>
<path d="M1439.8 816.75 C1739.2 816.75 1739.2 1092.20 2038.6 1092.20" fill="none" stroke="url(#g43)" stroke-opacity="0.28" stroke-width="1"/>
<path d="M1752.4 394.30 C1895.5 394.30 1895.5 1013.75 2038.6 1013.75 L2038.6 1020.35 C1895.5 1020.35 1895.5 400.90 1752.4 400.90 Z" fill="url(#g44)" fill-opacity="0.2"/>
<path d="M1752.4 401.40 C1895.5 401.40 1895.5 1031.20 2038.6 1031.20" fill="none" stroke="url(#g45)" stroke-opacity="0.28" stroke-width="1"/>
<path d="M1752.4 401.40 C1895.5 401.40 1895.5 1041.75 2038.6 1041.75" fill="none" stroke="url(#g46)" stroke-opacity="0.28" stroke-width="1"/>
</g>
<rect x="475.0" y="394.50" width="26.6" height="686.50" fill="#5470c6" stroke="#aaa" stroke-width="1"/>
<rect x="787.8" y="394.50" width="26.6" height="319.00" fill="#91cc75" stroke="#aaa" stroke-width="1"/>
<rect x="787.8" y="724.00" width="26.6" height="391.00" fill="#fac858" stroke="#aaa" stroke-width="1"/>
<rect x="1100.6" y="394.50" width="26.6" height="295.20" fill="#ee6666" stroke="#aaa" stroke-width="1"/>
<rect x="1100.6" y="700.50" width="26.6" height="23.50" fill="#73c0de" stroke="#aaa" stroke-width="1"/>
<rect x="1100.6" y="734.80" width="26.6" height="33.40" fill="#3ba272" stroke="#aaa" stroke-width="1"/>
<rect x="1100.6" y="779.20" width="26.6" height="165.50" fill="#fc8452" stroke="#aaa" stroke-width="1"/>
<rect x="1413.2" y="394.50" width="26.6" height="119.50" fill="#fc8452" stroke="#aaa" stroke-width="1"/>
<rect x="1413.2" y="524.75" width="26.6" height="22.35" fill="#9a60b4" stroke="#aaa" stroke-width="1"/>
<rect x="1413.2" y="557.50" width="26.6" height="6.70" fill="#ea7ccc" stroke="#aaa" stroke-width="1"/>
<rect x="1412.7" y="574.65" width="27.6" height="1.6" fill="#aaa"/>
<rect x="1413.2" y="585.80" width="26.6" height="164.45" fill="#91cc75" stroke="#aaa" stroke-width="1"/>
<rect x="1413.2" y="761.10" width="26.6" height="44.30" fill="#3ba272" stroke="#aaa" stroke-width="1"/>
<rect x="1413.2" y="816.25" width="26.6" height="6.85" fill="#fc8452" stroke="#aaa" stroke-width="1"/>
<rect x="1725.8" y="394.30" width="26.6" height="7.00" fill="#91cc75" stroke="#aaa" stroke-width="1"/>
<rect x="2038.1" y="394.40" width="27.6" height="1.6" fill="#aaa"/>
<rect x="2038.6" y="405.40" width="26.6" height="32.90" fill="#ea7ccc" stroke="#aaa" stroke-width="1"/>
<rect x="2038.6" y="449.20" width="26.6" height="10.60" fill="#5470c6" stroke="#aaa" stroke-width="1"/>
<rect x="2038.6" y="470.40" width="26.6" height="23.80" fill="#91cc75" stroke="#aaa" stroke-width="1"/>
<rect x="2038.6" y="504.60" width="26.6" height="6.20" fill="#fac858" stroke="#aaa" stroke-width="1"/>
<rect x="2038.1" y="520.90" width="27.6" height="1.6" fill="#aaa"/>
<rect x="2038.1" y="531.50" width="27.6" height="1.6" fill="#aaa"/>
<rect x="2038.6" y="542.90" width="26.6" height="21.30" fill="#3ba272" stroke="#aaa" stroke-width="1"/>
<rect x="2038.6" y="574.80" width="26.6" height="6.45" fill="#fac858" stroke="#aaa" stroke-width="1"/>
<rect x="2038.1" y="591.70" width="27.6" height="1.6" fill="#aaa"/>
<rect x="2038.1" y="602.70" width="27.6" height="1.6" fill="#aaa"/>
<rect x="2038.1" y="613.60" width="27.6" height="1.6" fill="#aaa"/>
<rect x="2038.1" y="624.20" width="27.6" height="1.6" fill="#aaa"/>
<rect x="2038.6" y="635.70" width="26.6" height="13.50" fill="#9a60b4" stroke="#aaa" stroke-width="1"/>
<rect x="2038.1" y="659.60" width="27.6" height="1.6" fill="#aaa"/>
<rect x="2038.1" y="670.20" width="27.6" height="1.6" fill="#aaa"/>
<rect x="2038.6" y="681.50" width="26.6" height="15.60" fill="#91cc75" stroke="#aaa" stroke-width="1"/>
<rect x="2038.1" y="706.90" width="27.6" height="1.6" fill="#aaa"/>
<rect x="2038.6" y="718.30" width="26.6" height="149.00" fill="#ee6666" stroke="#aaa" stroke-width="1"/>
<rect x="2038.1" y="877.60" width="27.6" height="1.6" fill="#aaa"/>
<rect x="2038.6" y="888.75" width="26.6" height="9.55" fill="#3ba272" stroke="#aaa" stroke-width="1"/>
<rect x="2038.1" y="909.20" width="27.6" height="1.6" fill="#aaa"/>
<rect x="2038.6" y="921.25" width="26.6" height="5.85" fill="#9a60b4" stroke="#aaa" stroke-width="1"/>
<rect x="2038.6" y="937.30" width="26.6" height="5.90" fill="#ea7ccc" stroke="#aaa" stroke-width="1"/>
<rect x="2038.1" y="953.60" width="27.6" height="1.6" fill="#aaa"/>
<rect x="2038.6" y="964.75" width="26.6" height="38.55" fill="#91cc75" stroke="#aaa" stroke-width="1"/>
<rect x="2038.6" y="1013.75" width="26.6" height="6.65" fill="#fac858" stroke="#aaa" stroke-width="1"/>
<rect x="2038.1" y="1030.10" width="27.6" height="1.6" fill="#aaa"/>
<rect x="2038.1" y="1040.65" width="27.6" height="1.6" fill="#aaa"/>
<rect x="2038.6" y="1051.80" width="26.6" height="2.80" fill="#9a60b4" stroke="#aaa" stroke-width="1"/>
<rect x="2038.6" y="1065.00" width="26.6" height="16.00" fill="#ea7ccc" stroke="#aaa" stroke-width="1"/>
<rect x="2038.1" y="1091.10" width="27.6" height="1.6" fill="#aaa"/>
<rect x="2038.1" y="1101.70" width="27.6" height="1.6" fill="#aaa"/>
<g font-family="'Liberation Sans', sans-serif" font-size="17.5" fill="#000" stroke="#fff" stroke-width="3" paint-order="stroke" stroke-linejoin="round">
<text x="508.1" y="742.0">高压进线</text>
<text x="820.9" y="558.3">车站非运营用电</text>
<text x="820.9" y="923.8">车站运营用电</text>
<text x="1133.7" y="546.4">商业用电</text>
<text x="1133.7" y="716.5">其它用电</text>
<text x="1133.7" y="755.8">照明用电</text>
<text x="1133.7" y="866.2">动力用电</text>
<text x="1446.3" y="458.6">消防给排水</text>
<text x="1446.3" y="540.2">环控</text>
<text x="1446.3" y="565.1">弱电系统</text>
<text x="1446.3" y="579.5">安保警务</text>
<text x="1446.3" y="672.3">负荷小动力</text>
<text x="1446.3" y="787.5">工作照明</text>
<text x="1446.3" y="824.0">门梯</text>
<text x="1758.9" y="402.1">电梯自动扶梯楼梯升降机</text>
<text x="2071.7" y="399.3">商用通信</text>
<text x="2071.7" y="426.2">PIDS设备</text>
<text x="2071.7" y="458.8">广告媒体</text>
<text x="2071.7" y="486.6">应急照明</text>
<text x="2071.7" y="512.0">自助设备</text>
<text x="2071.7" y="525.8">外单位用电</text>
<text x="2071.7" y="536.4">集团其它单位用电</text>
<text x="2071.7" y="557.8">商铺</text>
<text x="2071.7" y="582.3">出入口设施</text>
<text x="2071.7" y="596.6">大系统</text>
<text x="2071.7" y="607.6">其它</text>
<text x="2071.7" y="618.5">三级负荷</text>
<text x="2071.7" y="629.1">气体灭火系统</text>
<text x="2071.7" y="646.8">高压细水雾</text>
<text x="2071.7" y="664.5">信号系统</text>
<text x="2071.7" y="675.1">监控系统电源</text>
<text x="2071.7" y="693.6">二级负荷</text>
<text x="2071.7" y="711.8">车控室系统</text>
<text x="2071.7" y="797.1">一级负荷</text>
<text x="2071.7" y="882.5">消防泵系统</text>
<text x="2071.7" y="897.8">给排水</text>
<text x="2071.7" y="914.1">变电所用电</text>
<text x="2071.7" y="928.5">小系统</text>
<text x="2071.7" y="944.5">设备区照明</text>
<text x="2071.7" y="958.5">高压细水雾补水泵</text>
<text x="2071.7" y="988.3">公共区照明</text>
<text x="2071.7" y="1021.4">站内扶梯</text>
<text x="2071.7" y="1035.0">直梯</text>
<text x="2071.7" y="1045.5">出入口扶梯无障碍梯</text>
<text x="2071.7" y="1057.5">集中UPS系统</text>
<text x="2071.7" y="1077.3">制冷水系统</text>
<text x="2071.7" y="1096.0">站台门系统</text>
<text x="2071.7" y="1106.6">安检设备</text>
</g>
</svg>
</body></html>
